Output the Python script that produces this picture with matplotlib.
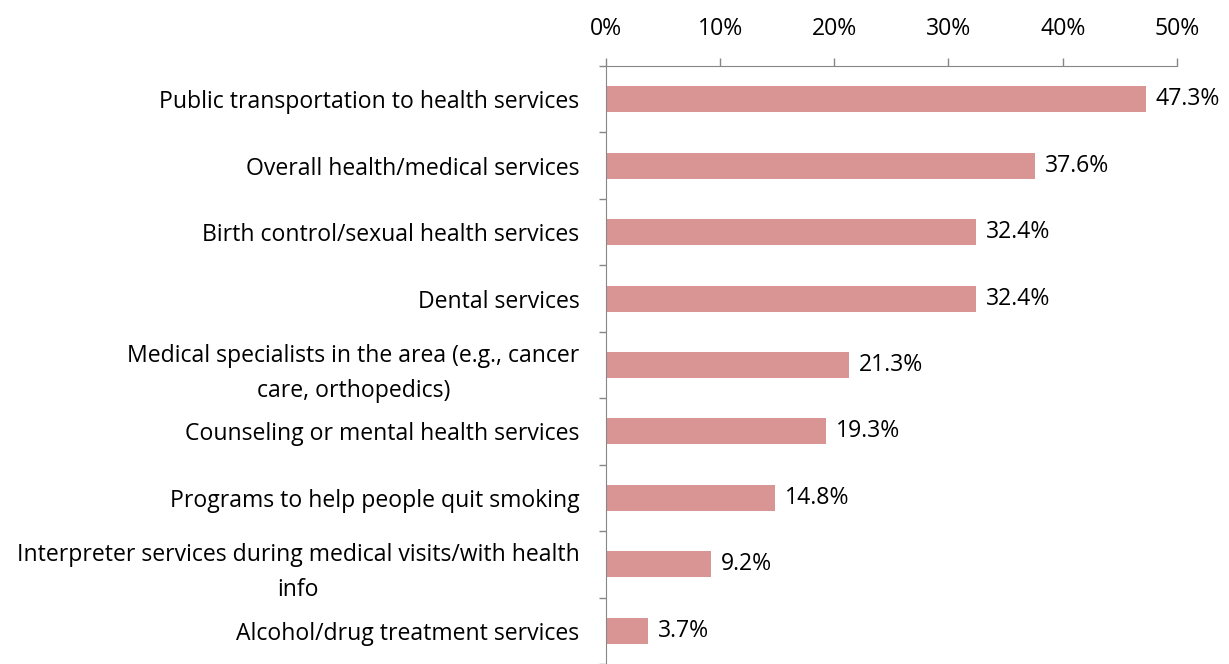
import matplotlib.pyplot as plt

# datos (de arriba hacia abajo)
categories = [
    "Public transportation to health services",
    "Overall health/medical services",
    "Birth control/sexual health services",
    "Dental services",
    "Medical specialists in the area (e.g., cancer\ncare, orthopedics)",
    "Counseling or mental health services",
    "Programs to help people quit smoking",
    "Interpreter services during medical visits/with health\ninfo",
    "Alcohol/drug treatment services",
]
values = [47.3, 37.6, 32.4, 32.4, 21.3, 19.3, 14.8, 9.2, 3.7]
xticks = [0, 10, 20, 30, 40, 50]

plt.rcParams["font.family"] = ["Open Sans", "DejaVu Sans"]
fs = 16.6

fig = plt.figure(figsize=(12.29, 6.64), dpi=100)
ax = fig.add_axes([0.493, 0.0, 0.4646, 0.9006])

pos = list(range(len(categories)))
bars = ax.barh(pos, values, height=0.39, color="#D99594")
ax.bar_label(bars, labels=[f"{v:.1f}%" for v in values], padding=7, fontsize=fs)

ax.set_xlim(0, 50)
ax.set_ylim(len(categories) - 0.5, -0.5)

ax.xaxis.tick_top()
ax.set_xticks(xticks)
ax.set_xticklabels([f"{t}%" for t in xticks], fontsize=fs)
ax.tick_params(axis="x", direction="out", length=6, width=1, color="#868686", pad=12)

ax.set_yticks([p + 0.5 for p in range(-1, len(categories))], minor=False)
ax.set_yticklabels([])
ax.set_yticks(pos, minor=True)
ax.set_yticklabels(categories, minor=True, fontsize=fs, linespacing=1.6)
ax.tick_params(axis="y", which="major", direction="out", length=5, width=1, color="#868686")
ax.tick_params(axis="y", which="minor", length=0, pad=19)
for lab in ax.get_yticklabels(minor=True):
    lab.set_multialignment("center")

for s in ["right", "bottom"]:
    ax.spines[s].set_visible(False)
ax.spines["top"].set_color("#868686")
ax.spines["left"].set_color("#868686")
ax.spines["top"].set_bounds(0, 50)

fig.savefig("out.png", dpi=100)
